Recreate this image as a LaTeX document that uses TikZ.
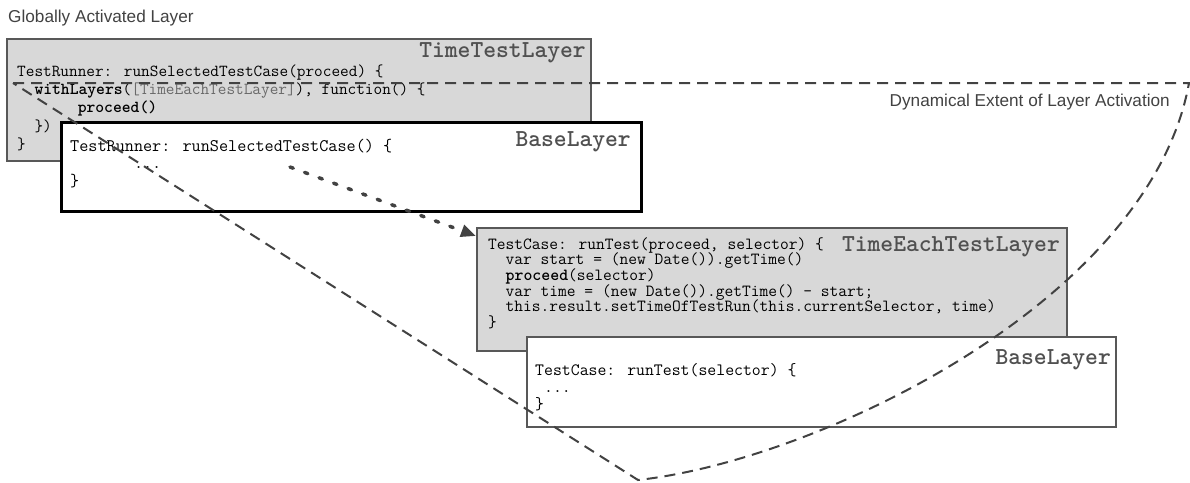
\documentclass[tikz,border=0pt]{standalone}
\usepackage{fontspec}
\newfontfamily\notesans{Liberation Sans}
\usetikzlibrary{arrows.meta}
\definecolor{layergray}{RGB}{216,216,216}
\definecolor{edgegray}{RGB}{88,88,88}
\definecolor{inkgray}{RGB}{66,66,66}
\definecolor{namegray}{RGB}{80,80,80}
\definecolor{listgray}{RGB}{105,105,105}
\lineskiplimit=-30pt

\begin{document}
\begin{tikzpicture}[x=1pt,y=-1pt,inner sep=0pt,
    layerbox/.style={rectangle,draw=edgegray,line width=2pt,fill=layergray,anchor=north west},
    basebox/.style={rectangle,draw=edgegray,line width=2pt,fill=white,anchor=north west},
    layername/.style={anchor=base east,text=namegray,font=\fontsize{24.4}{26}\selectfont\ttfamily\bfseries},
    code/.style={anchor=north west,align=left},
    note/.style={text=inkgray,font=\fontsize{17.2}{20}\selectfont\notesans},
    extent/.style={draw=inkgray,line width=2pt,dash pattern=on 11pt off 7pt},
    call/.style={draw=inkgray,line width=3.5pt,line cap=round,dash pattern=on 3.5pt off 12pt}]
    \useasboundingbox (0,0) rectangle (1190,482);

    \node (global_note) [note,anchor=base west] at (8,22) {Globally Activated Layer};

    % Globally activated layer
    \node (time_test_box) [layerbox,minimum width=584pt,minimum height=122pt] at (6,38) {};
    \node (time_test_name) [layername] at (586,57) {TimeTestLayer};
    \node (time_test_code) [code,font=\fontsize{16.8}{18.3}\selectfont\ttfamily] at (17,64.4) {TestRunner: runSelectedTestCase(proceed) \{\\
      \ \ \textbf{withLayers}(\textcolor{listgray}{[TimeEachTestLayer]}), function() \{\\
      \ \ \ \ \ \ \ \textbf{proceed()}\\
      \ \ \})\\
      \}};

    % Base layer of the runner
    \node (runner_base_box) [basebox,draw=black,line width=2.5pt,minimum width=580pt,minimum height=89pt] at (60,121) {};
    \node (runner_base_name) [layername] at (631,146) {BaseLayer};
    \node (runner_base_code) [code,font=\fontsize{17.7}{17.5}\selectfont\ttfamily] at (70,138.7) {TestRunner: runSelectedTestCase() \{\\
      \ \ \ \ \ \ \ ...\\
      \}};

    % Layer activated for each test
    \node (time_each_box) [layerbox,minimum width=590pt,minimum height=123pt] at (476,227) {};
    \node (time_each_name) [layername] at (1060,251) {TimeEachTestLayer};
    \node (time_each_code) [code,font=\fontsize{17}{15.6}\selectfont\ttfamily] at (488,237.3) {TestCase: runTest(proceed, selector) \{\\
      \ \ var start = (new Date()).getTime()\\
      \ \ \textbf{proceed}(selector)\\
      \ \ var time = (new Date()).getTime() - start;\\
      \ \ this.result.setTimeOfTestRun(this.currentSelector, time)\\
      \}};

    % Base layer of the test case
    \node (case_base_box) [basebox,minimum width=589pt,minimum height=90pt] at (526,336) {};
    \node (case_base_name) [layername] at (1111,364) {BaseLayer};
    \node (case_base_code) [code,font=\fontsize{17.3}{17}\selectfont\ttfamily] at (535,363) {TestCase: runTest(selector) \{\\
      \ ...\\
      \}};

    % Dynamical extent of the activation
    \coordinate (extent_left) at (13,83);
    \coordinate (extent_right) at (1189,83);
    \coordinate (extent_bottom) at (638,480);
    \draw[extent] (extent_left) -- (extent_right)
        .. controls (1150,300) and (820,460) .. (extent_bottom) -- cycle;
    \node (extent_note) [note,anchor=base east] at (1170,106) {Dynamical Extent of Layer Activation};

    % Call of proceed into the next layer
    \coordinate (call_start) at (290,167);
    \draw[call,-{Triangle[length=15pt,width=12pt]}] (call_start) -- ([yshift=-9pt]time_each_box.north west);
\end{tikzpicture}
\end{document}
